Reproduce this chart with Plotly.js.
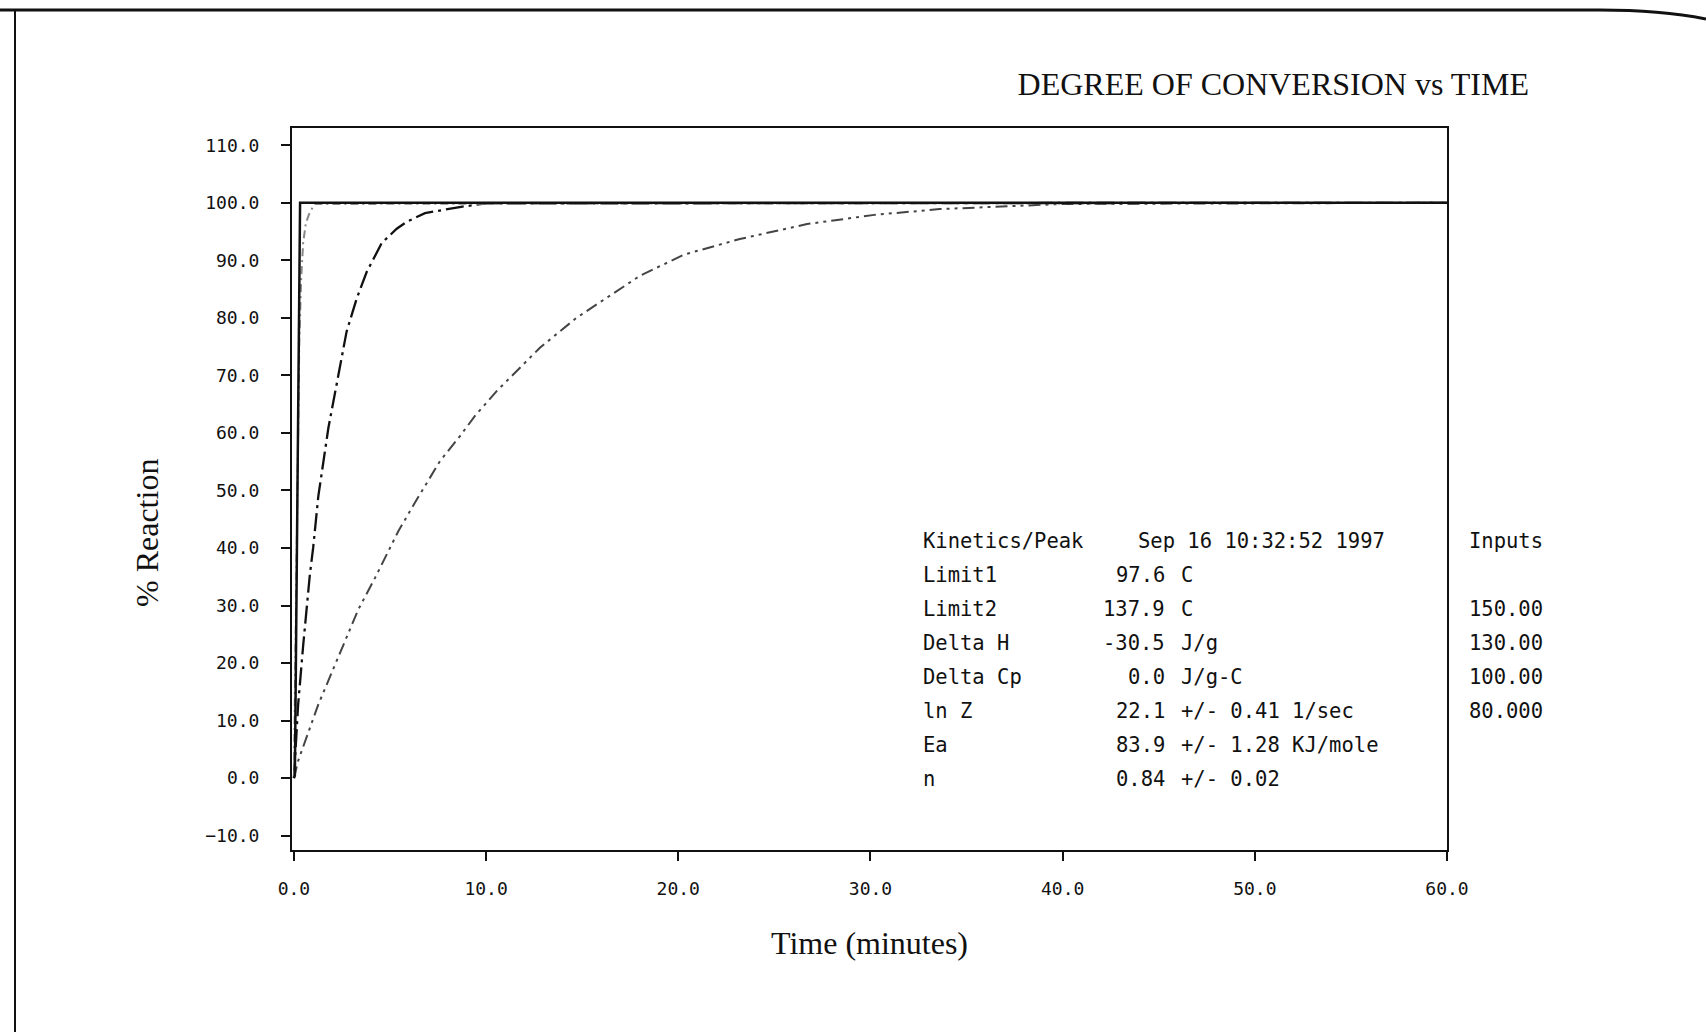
<!DOCTYPE html>
<html>
<head>
<meta charset="utf-8">
<script src="https://cdn.plot.ly/plotly-3.0.1.min.js"></script>
<style>
  html, body { margin: 0; padding: 0; background: #fff; }
  #chart { width: 1706px; height: 1032px; }
</style>
</head>
<body>
<div id="chart"></div>
<script>
// ---- Data ----
// Solid curve
const solidTime = [0, 0.05, 0.32, 60];
const solidPct  = [0, 0.5, 100, 100];

// Gray dash-dot curve (fastest)
const fastTime = [0, 0.05, 0.1, 0.15, 0.2, 0.28, 0.38, 0.48, 0.62, 0.83, 1.1, 60];
const fastPct  = [0, 15, 32, 48, 62, 76, 87, 93, 96.5, 98.4, 99.8, 100];

// Long dash-dot curve
const midTime = [0, 0.1, 0.22, 0.48, 0.83, 1.0, 1.27, 1.79, 2.4, 2.74, 3.27, 3.79, 4.57, 5.35, 5.87, 6.82, 8.7, 10, 60];
const midPct  = [0, 5, 12.8, 23, 35.4, 40, 49, 60.8, 71.2, 77.6, 83.4, 88, 93, 95.5, 96.7, 98.2, 99.3, 99.9, 100];

// Dash-dot-dot curve (slowest)
const slowTime = [0, 0.22, 1.27, 2.22, 3.35, 4.22, 5.43, 6.3, 7.6, 8.65, 9.43, 10.56, 12.8, 14.7, 16.3, 18.0, 20.3, 23.2, 26.7, 30.2, 33.6, 36.3, 40, 60];
const slowPct  = [0, 3, 12.8, 20.3, 29.3, 34.8, 42.9, 47.9, 55.1, 59.5, 63, 67.3, 74.8, 80, 83.5, 87.3, 91, 93.7, 96.3, 97.9, 98.9, 99.3, 99.8, 100];

// Text block
const rowLabels = ["Kinetics/Peak", "Limit1", "Limit2", "Delta H", "Delta Cp", "ln Z", "Ea", "n"];
const rowValues = ["", "97.6", "137.9", "-30.5", "0.0", "22.1", "83.9", "0.84"];
const rowUnits  = ["", "C", "C", "J/g", "J/g-C", "+/- 0.41 1/sec", "+/- 1.28 KJ/mole", "+/- 0.02"];
const headerDate = "Sep 16 10:32:52 1997";
const inputsCol = ["Inputs", "", "150.00", "130.00", "100.00", "80.000", "", ""];

const chartTitle = "DEGREE OF CONVERSION vs TIME";
const xTitle = "Time (minutes)";
const yTitle = "% Reaction";

// ---- Layout geometry (pixels) ----
const W = 1706, H = 1032;
const M = {l: 292, r: 259, t: 128, b: 182};
const PW = W - M.l - M.r, PH = H - M.t - M.b;
const px = x => (x - M.l) / PW;
const py = y => (H - M.b - y) / PH;

const monoFont = {family: "DejaVu Sans Mono", size: 20.5, color: "#111"};
const serifFont = {family: "Liberation Serif, Times New Roman, serif", size: 32, color: "#111"};

const traces = [
  {x: slowTime, y: slowPct, mode: "lines", line: {color: "#444", width: 2, dash: "12px,5px,3px,5px,3px,5px"}},
  {x: midTime, y: midPct, mode: "lines", line: {color: "#111", width: 2.3, dash: "18px,5px,3px,5px"}},
  {x: fastTime, y: fastPct, mode: "lines", line: {color: "#888", width: 2, dash: "8px,4px,2px,4px"}},
  {x: solidTime, y: solidPct, mode: "lines", line: {color: "#111", width: 2.5}}
];

const annotations = [];
const rowBase = 541, rowStep = 34;
rowLabels.forEach((lab, i) => {
  const yy = py(rowBase + i * rowStep);
  annotations.push({xref: "paper", yref: "paper", x: px(921), y: yy, xanchor: "left", yanchor: "middle",
    text: lab.replace(/ /g, "\u00A0"), showarrow: false, font: monoFont});
  if (rowValues[i]) annotations.push({xref: "paper", yref: "paper", x: px(1167), y: yy, xanchor: "right", yanchor: "middle",
    text: rowValues[i], showarrow: false, font: monoFont});
  if (rowUnits[i]) annotations.push({xref: "paper", yref: "paper", x: px(1179), y: yy, xanchor: "left", yanchor: "middle",
    text: rowUnits[i].replace(/ /g, "\u00A0"), showarrow: false, font: monoFont});
  if (inputsCol[i]) annotations.push({xref: "paper", yref: "paper", x: px(1467), y: yy, xanchor: "left", yanchor: "middle",
    text: inputsCol[i], showarrow: false, font: monoFont});
});
annotations.push({xref: "paper", yref: "paper", x: px(1136), y: py(rowBase), xanchor: "left", yanchor: "middle",
  text: headerDate.replace(/ /g, "\u00A0"), showarrow: false, font: monoFont});
annotations.push({xref: "paper", yref: "paper", x: px(147), y: py(533), xanchor: "center", yanchor: "middle",
  text: yTitle, textangle: -90, showarrow: false, font: serifFont});

const tickFont = {family: "DejaVu Sans Mono", size: 18, color: "#111"};

const layout = {
  width: W, height: H, autosize: false,
  margin: M,
  paper_bgcolor: "#fff", plot_bgcolor: "#fff",
  showlegend: false,
  hovermode: false,
  title: {text: chartTitle, font: serifFont, xref: "container", yref: "container",
          x: 1529 / W, y: 1 - 84 / H, xanchor: "right", yanchor: "middle"},
  xaxis: {
    range: [-0.1, 60], tick0: 0, dtick: 10, tickformat: ".1f",
    showgrid: false, zeroline: false,
    showline: true, mirror: true, linecolor: "#111", linewidth: 2,
    ticks: "outside", ticklen: 9, tickwidth: 2, tickcolor: "#111",
    tickfont: tickFont, ticklabelstandoff: 12,
    title: {text: xTitle, font: serifFont, standoff: 34}
  },
  yaxis: {
    range: [-12.5, 113.0], tick0: -10, dtick: 10, tickformat: ".1f",
    showgrid: false, zeroline: false,
    showline: true, mirror: true, linecolor: "#111", linewidth: 2,
    ticks: "outside", ticklen: 9, tickwidth: 2, tickcolor: "#111",
    tickfont: tickFont, ticklabelstandoff: 18
  },
  annotations: annotations,
  shapes: [
    {type: "path", xref: "paper", yref: "paper", layer: "above",
     path: `M ${px(0)} ${py(10)} L ${px(1600)} ${py(10)} Q ${px(1660)} ${py(10)} ${px(1706)} ${py(19)}`,
     line: {color: "#111", width: 3}},
    {type: "line", xref: "paper", yref: "paper", x0: px(15), x1: px(15), y0: py(10), y1: py(1032),
     line: {color: "#111", width: 2}}
  ]
};

Plotly.newPlot("chart", traces, layout, {displayModeBar: false, staticPlot: true});
</script>
</body>
</html>
